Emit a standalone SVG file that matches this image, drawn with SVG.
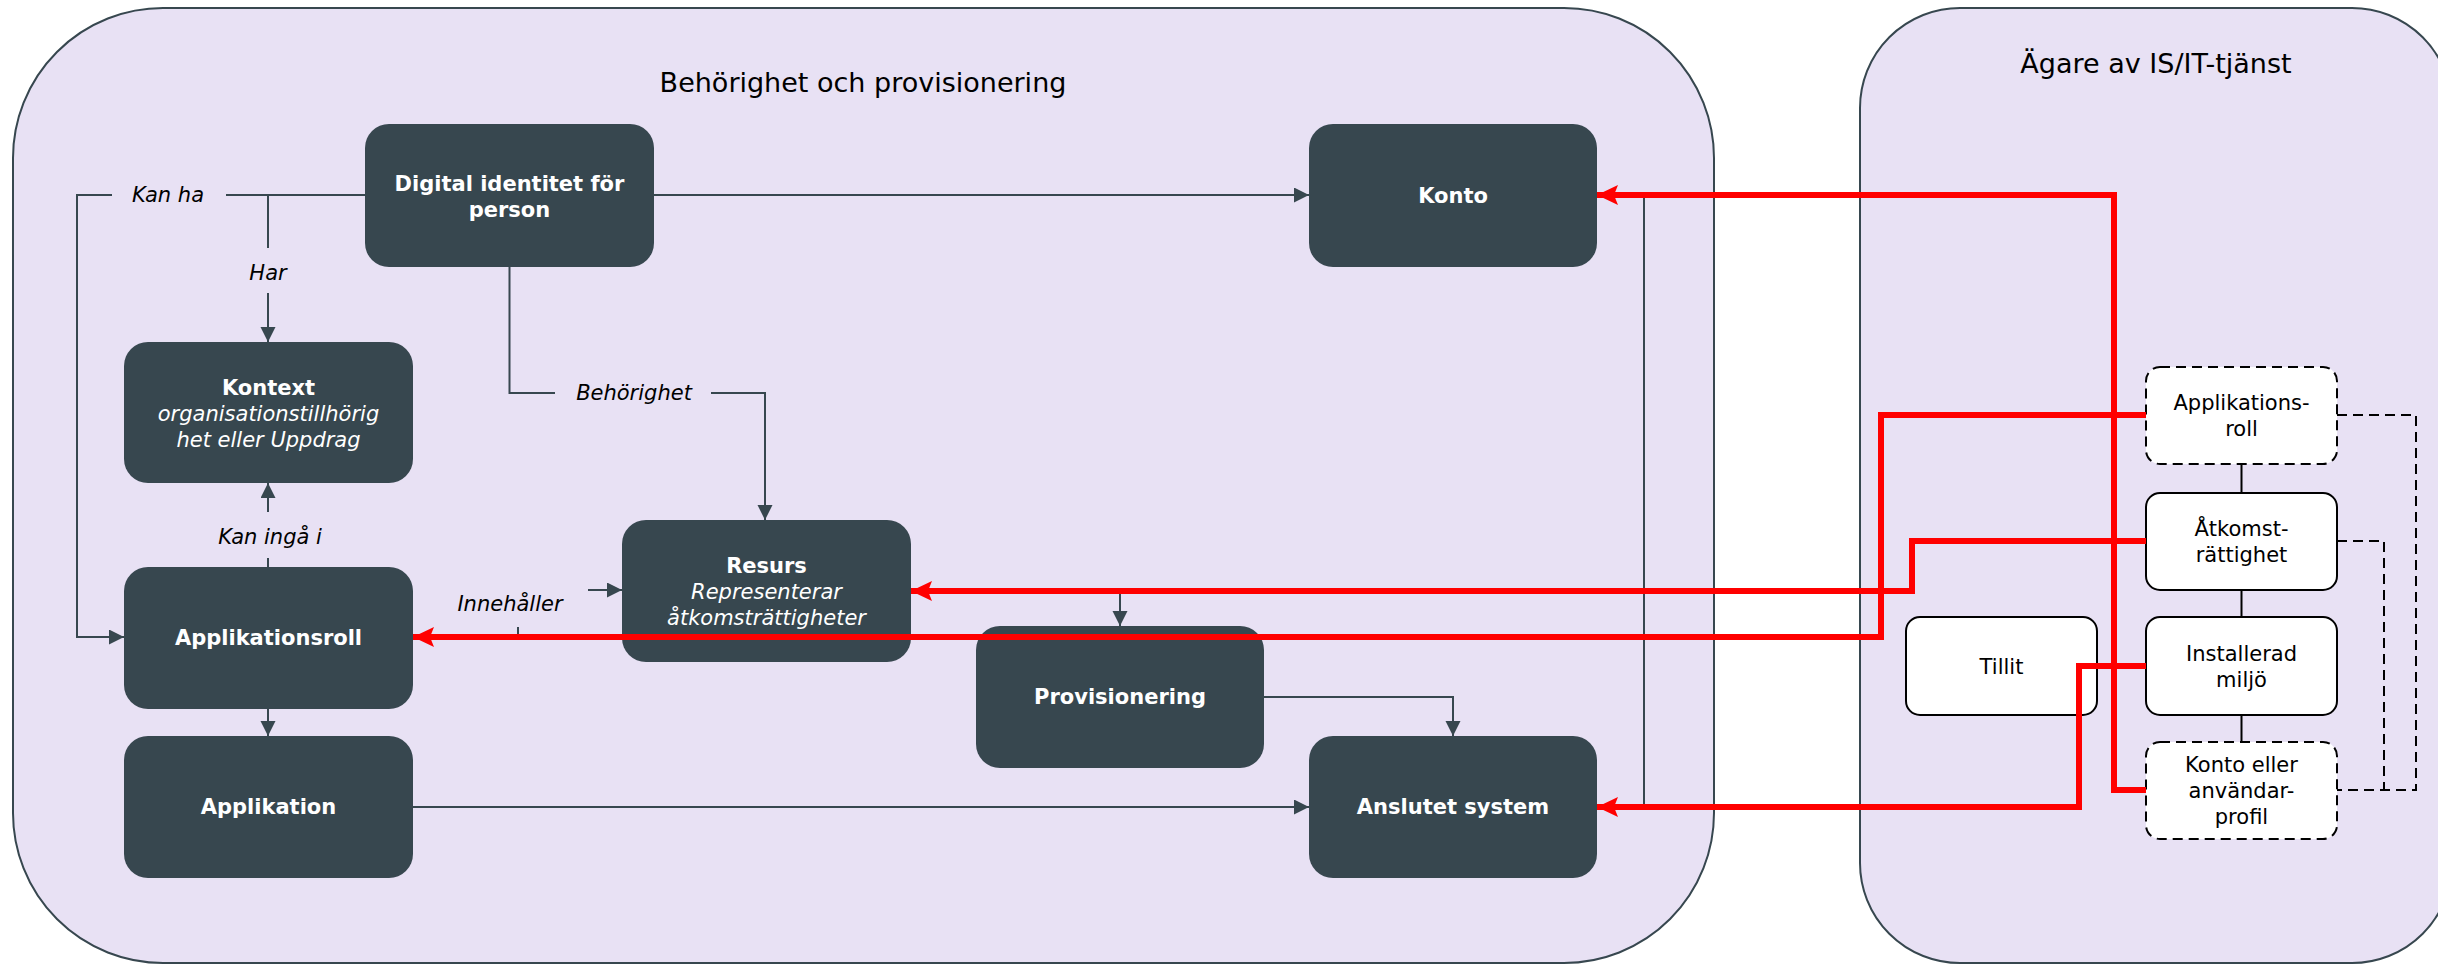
<svg xmlns="http://www.w3.org/2000/svg" width="2438" height="965" viewBox="0 0 2438 965">
  <style>
    text { font-family: "DejaVu Sans", Verdana, sans-serif; }
    .container { fill: #E8E1F4; stroke: #37474F; stroke-width: 2; }
    .title { font-size: 27px; fill: #000; text-anchor: middle; }
    .dark { fill: #37474F; }
    .dark-text { font-size: 21px; fill: #FFFFFF; text-anchor: middle; }
    .b { font-weight: bold; }
    .i { font-style: italic; }
    .light { fill: #FFFFFF; stroke: #000; stroke-width: 2; }
    .dashed { stroke-dasharray: 10 6; }
    .light-text { font-size: 21px; fill: #000; text-anchor: middle; }
    .edge { fill: none; stroke: #37474F; stroke-width: 2; }
    .edge-arrow { marker-end: url(#arrowDark); }
    .link { fill: none; stroke: #000; stroke-width: 2; }
    .red { fill: none; stroke: #FF0000; stroke-width: 6; marker-end: url(#arrowRed); }
    .label-bg { fill: #E8E1F4; }
    .label { font-size: 21px; font-style: italic; fill: #000; text-anchor: middle; }
  </style>
  <defs>
    <marker id="arrowDark" markerUnits="userSpaceOnUse" markerWidth="16" markerHeight="16" refX="15" refY="7.5" orient="auto">
      <path d="M0,0 L15,7.5 L0,15 z" fill="#37474F"/>
    </marker>
    <marker id="arrowRed" markerUnits="userSpaceOnUse" markerWidth="22" markerHeight="22" refX="21" refY="10" orient="auto">
      <path d="M0,0 L21,10 L0,20 L4,10 z" fill="#FF0000"/>
    </marker>
  </defs>

  <!-- Swimlane containers -->
  <g id="container-behorighet">
    <rect class="container" x="13" y="8" width="1701" height="955" rx="150" ry="150"/>
    <text class="title" x="863" y="92">Behörighet och provisionering</text>
  </g>
  <g id="container-agare">
    <rect class="container" x="1860" y="8" width="592" height="955" rx="100" ry="100"/>
    <text class="title" x="2156" y="73">Ägare av IS/IT-tjänst</text>
  </g>

  <!-- Dark entity nodes -->
  <g id="node-digital-identitet">
    <rect class="dark" x="365" y="124" width="289" height="143" rx="24"/>
    <text class="dark-text b" x="509.5" y="191">Digital identitet för</text>
    <text class="dark-text b" x="509.5" y="217">person</text>
  </g>
  <g id="node-konto">
    <rect class="dark" x="1309" y="124" width="288" height="143" rx="24"/>
    <text class="dark-text b" x="1453" y="203">Konto</text>
  </g>
  <g id="node-kontext">
    <rect class="dark" x="124" y="342" width="289" height="141" rx="24"/>
    <text class="dark-text b" x="268.5" y="395">Kontext</text>
    <text class="dark-text i" x="268.5" y="421">organisationstillhörig</text>
    <text class="dark-text i" x="268.5" y="447">het eller Uppdrag</text>
  </g>
  <g id="node-applikationsroll">
    <rect class="dark" x="124" y="567" width="289" height="142" rx="24"/>
    <text class="dark-text b" x="268.5" y="645">Applikationsroll</text>
  </g>
  <g id="node-applikation">
    <rect class="dark" x="124" y="736" width="289" height="142" rx="24"/>
    <text class="dark-text b" x="268.5" y="814">Applikation</text>
  </g>
  <g id="node-resurs">
    <rect class="dark" x="622" y="520" width="289" height="142" rx="24"/>
    <text class="dark-text b" x="766.5" y="573">Resurs</text>
    <text class="dark-text i" x="766.5" y="599">Representerar</text>
    <text class="dark-text i" x="766.5" y="625">åtkomsträttigheter</text>
  </g>
  <g id="node-provisionering">
    <rect class="dark" x="976" y="626" width="288" height="142" rx="24"/>
    <text class="dark-text b" x="1120" y="704">Provisionering</text>
  </g>
  <g id="node-anslutet-system">
    <rect class="dark" x="1309" y="736" width="288" height="142" rx="24"/>
    <text class="dark-text b" x="1453" y="814">Anslutet system</text>
  </g>

  <!-- Owner-side nodes -->
  <g id="node-applikationsroll-agare">
    <rect class="light dashed" x="2146" y="367" width="191" height="97" rx="14"/>
    <text class="light-text" x="2241.5" y="410">Applikations-</text>
    <text class="light-text" x="2241.5" y="436">roll</text>
  </g>
  <g id="node-atkomstrattighet">
    <rect class="light" x="2146" y="493" width="191" height="97" rx="14"/>
    <text class="light-text" x="2241.5" y="536">Åtkomst-</text>
    <text class="light-text" x="2241.5" y="562">rättighet</text>
  </g>
  <g id="node-installerad-miljo">
    <rect class="light" x="2146" y="617" width="191" height="98" rx="14"/>
    <text class="light-text" x="2241.5" y="660.5">Installerad</text>
    <text class="light-text" x="2241.5" y="686.5">miljö</text>
  </g>
  <g id="node-konto-anvandarprofil">
    <rect class="light dashed" x="2146" y="742" width="191" height="97" rx="14"/>
    <text class="light-text" x="2241.5" y="772">Konto eller</text>
    <text class="light-text" x="2241.5" y="798">användar-</text>
    <text class="light-text" x="2241.5" y="824">profil</text>
  </g>
  <g id="node-tillit">
    <rect class="light" x="1906" y="617" width="191" height="98" rx="14"/>
    <text class="light-text" x="2001.5" y="673.5">Tillit</text>
  </g>

  <!-- Connectors -->
  <g id="connectors">
    <!-- Digital identitet -> Konto -->
    <path class="edge edge-arrow" d="M654,195 L1309,195"/>
    <!-- Digital identitet -> Applikationsroll (Kan ha) -->
    <path class="edge edge-arrow" d="M365,195 L77,195 L77,637 L124,637"/>
    <rect class="label-bg" x="112" y="182" width="114" height="28"/>
    <text class="label" x="168" y="202">Kan ha</text>
    <!-- Digital identitet -> Kontext (Har) -->
    <path class="edge edge-arrow" d="M268,195 L268,342"/>
    <rect class="label-bg" x="240" y="248" width="56" height="45"/>
    <text class="label" x="268" y="280">Har</text>
    <!-- Digital identitet -> Resurs (Behörighet) -->
    <path class="edge edge-arrow" d="M509.5,267 L509.5,393 L765,393 L765,520"/>
    <rect class="label-bg" x="555" y="378" width="156" height="30"/>
    <text class="label" x="634" y="400">Behörighet</text>
    <!-- Applikationsroll -> Kontext (Kan ingå i) -->
    <path class="edge edge-arrow" d="M268,567 L268,483"/>
    <rect class="label-bg" x="205" y="512" width="126" height="46"/>
    <text class="label" x="270" y="544">Kan ingå i</text>
    <!-- Applikationsroll -> Applikation -->
    <path class="edge edge-arrow" d="M268,709 L268,736"/>
    <!-- Applikationsroll -> Resurs (Innehåller) -->
    <path class="edge edge-arrow" d="M413,637 L518,637 L518,590 L622,590"/>
    <rect class="label-bg" x="452" y="575" width="136" height="52"/>
    <text class="label" x="510" y="611">Innehåller</text>
    <!-- Resurs -> Provisionering -->
    <path class="edge edge-arrow" d="M911,591 L1120,591 L1120,626"/>
    <!-- Provisionering -> Anslutet system -->
    <path class="edge edge-arrow" d="M1264,697 L1453,697 L1453,736"/>
    <!-- Applikation -> Anslutet system -->
    <path class="edge edge-arrow" d="M413,807 L1309,807"/>
    <!-- Konto - Anslutet system -->
    <path class="edge" d="M1597,195 L1644,195 L1644,807 L1597,807"/>

    <!-- Owner-side links -->
    <path class="link" d="M2241.5,464 L2241.5,493"/>
    <path class="link" d="M2241.5,590 L2241.5,617"/>
    <path class="link" d="M2241.5,715 L2241.5,742"/>
    <path class="link dashed" d="M2337,415 L2416,415 L2416,790 L2337,790"/>
    <path class="link dashed" d="M2337,541 L2384,541 L2384,790"/>

    <!-- Mappings from owner side -->
    <path class="red" d="M2146,415 L1881,415 L1881,637 L413,637"/>
    <path class="red" d="M2146,541 L1912,541 L1912,591 L911,591"/>
    <path class="red" d="M2146,790 L2114,790 L2114,195 L1597,195"/>
    <path class="red" d="M2146,666 L2079,666 L2079,807 L1597,807"/>
  </g>
</svg>
